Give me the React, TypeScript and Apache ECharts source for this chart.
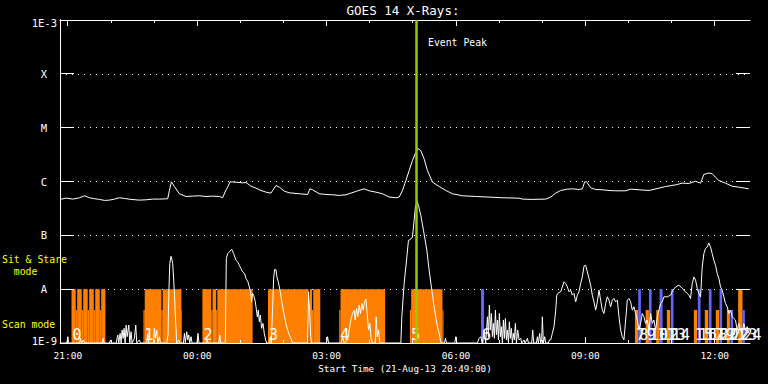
import React, { useEffect, useRef } from "react";
import * as echarts from "echarts";

// ---- axis definitions ----
const START_MINUTE_OF_DAY = 20 * 60 + 49; // 20:49
const SPAN_MINUTES = 960;
const FLOOR = 1e-9;
const CEIL = 1e-3;
const xMajorMinutes = [11, 191, 371, 551, 731, 911];
const xMajorLabels = ["21:00", "00:00", "03:00", "06:00", "09:00", "12:00"];
const xMinorMinutes = [71, 131, 251, 311, 431, 491, 611, 671, 791, 851];
const yTickValues = [1e-9, 1e-8, 1e-7, 1e-6, 1e-5, 1e-4, 1e-3];
const yTickLabels = ["1E-9", "A", "B", "C", "M", "X", "1E-3"];

const titleText = "GOES 14 X-Rays:";
const xAxisTitle = "Start Time (21-Aug-13 20:49:00)";
const eventPeakMinute = 495.5;
const eventPeakText = "Event Peak";

// ---- long channel (1-8 A) : minutes since start, flux W/m2 ----
const longTimes = [0, 8.6, 17.8, 27.1, 34.1, 41, 48, 55, 62, 68.8, 75.7, 82.7, 89.6, 98.9, 110.5, 119.8, 129, 138.3, 149.9, 152.2, 155, 159.1, 166.1, 175.4, 184.6, 193.9, 203.2, 212.4, 221.7, 226.3, 231, 233.3, 236.6, 244.9, 254.1, 258.8, 265.7, 272.7, 279.6, 286.6, 293.5, 300.5, 305.1, 312, 319, 332.9, 344.5, 347.7, 351.4, 360.7, 370, 379.2, 388.5, 397.8, 404.7, 411.7, 418.6, 423.2, 430.2, 439.5, 448.7, 458, 467.3, 471.9, 476.5, 481.2, 485.8, 490.4, 494.1, 497.3, 502, 506.6, 511.2, 518.2, 527.5, 536.8, 546, 559.9, 578.5, 597, 615.4, 638.7, 643.3, 657.2, 675.8, 682.7, 689.7, 696.6, 705.9, 712.8, 722.1, 726.7, 730, 732.7, 738.3, 745.3, 754.5, 763.8, 773, 787, 793.9, 805.5, 819.4, 833.2, 842.6, 856.5, 865.6, 874.9, 884.2, 891.2, 895.8, 902.7, 907.3, 916.6, 925.9, 935.1, 944.4, 958.3];
const longFlux = [4.65e-7, 4.91e-7, 4.71e-7, 4.99e-7, 5.43e-7, 4.99e-7, 4.78e-7, 4.65e-7, 4.45e-7, 4.51e-7, 4.71e-7, 4.99e-7, 4.84e-7, 4.65e-7, 4.51e-7, 4.57e-7, 4.71e-7, 4.71e-7, 4.78e-7, 6.81e-7, 9.86e-7, 8.07e-7, 5.92e-7, 5.27e-7, 5.35e-7, 5.43e-7, 5.27e-7, 5.35e-7, 5.27e-7, 4.99e-7, 7.02e-7, 7.85e-7, 9.86e-7, 9.72e-7, 9.44e-7, 9.57e-7, 8.18e-7, 7.52e-7, 6.81e-7, 6.34e-7, 6.08e-7, 8.43e-7, 7.85e-7, 6.62e-7, 6.17e-7, 5.92e-7, 5.74e-7, 7.31e-7, 7.02e-7, 5.92e-7, 5.74e-7, 5.66e-7, 5.51e-7, 5.66e-7, 6.08e-7, 6.53e-7, 7.02e-7, 7.31e-7, 6.71e-7, 6.34e-7, 5.92e-7, 5.13e-7, 4.99e-7, 5.13e-7, 6.81e-7, 1.045e-6, 1.6e-6, 2.45e-6, 3.25e-6, 4.14e-6, 3.75e-6, 2.63e-6, 1.6e-6, 9.72e-7, 8.07e-7, 6.81e-7, 5.92e-7, 5.43e-7, 5.27e-7, 5.13e-7, 4.99e-7, 4.9e-7, 4.71e-7, 4.65e-7, 4.71e-7, 5.13e-7, 6.08e-7, 6.81e-7, 7.21e-7, 7.31e-7, 7.11e-7, 7.31e-7, 9.86e-7, 9.86e-7, 7.64e-7, 7.11e-7, 7.02e-7, 6.81e-7, 6.71e-7, 6.71e-7, 7.21e-7, 7.02e-7, 6.81e-7, 7.52e-7, 8.07e-7, 8.66e-7, 9.31e-7, 9.19e-7, 1.01e-6, 9.31e-7, 1.35e-6, 1.44e-6, 1.39e-6, 1.045e-6, 9.31e-7, 8.18e-7, 7.85e-7, 7.31e-7];

// ---- short channel (0.5-4 A) : [minutes since start, flux] ----
const shortChannel: [number, number][] = [
  [0, 1e-9], [9.5, 1e-9], [10.9, 1.31e-9], [12.3, 1e-9],
  [27.1, 1e-9], [28.5, 1.22e-9], [29.9, 1e-9], [32.7, 1.14e-9], [34.1, 1e-9],
  [58.6, 1e-9], [60, 1.22e-9], [61.4, 1e-9], [68.8, 1e-9], [70.2, 1.14e-9], [71.6, 1e-9],
  [78.1, 1e-9], [80.4, 1.41e-9], [81.8, 1e-9], [83.6, 1.51e-9], [85, 1e-9], [86.4, 1.74e-9], [87.8, 1.22e-9], [89.2, 1.87e-9], [90.6, 1e-9], [92, 2.15e-9], [93.4, 1.31e-9], [95.7, 2.15e-9], [97.1, 1e-9], [98.9, 1.62e-9], [100.3, 1e-9], [103.5, 1.22e-9], [105.4, 2.15e-9], [106.8, 1e-9], [110.5, 1.14e-9], [111.9, 1e-9],
  [120.7, 1e-9], [122.1, 1.51e-9], [123.5, 1e-9], [130, 1e-9], [131.3, 1.87e-9], [132.7, 1.22e-9], [134.6, 1.74e-9], [136, 1e-9], [138.3, 1.31e-9], [139.7, 1e-9],
  [148.5, 1e-9], [150.3, 1.41e-9], [151.3, 7.21e-9], [152.7, 2.99e-8], [154.5, 4.08e-8], [155.9, 3.44e-8], [156.8, 2.99e-8], [158.2, 1.47e-8], [159.6, 6.25e-9], [161, 2.31e-9], [162.4, 1e-9],
  [165.2, 1.14e-9], [166.6, 1e-9], [171.7, 1e-9], [173.1, 1.51e-9], [174.4, 1e-9], [176.3, 1.62e-9], [177.7, 1.14e-9], [179.1, 1.41e-9], [180.5, 1e-9], [182.3, 1.31e-9], [183.7, 1e-9], [190.6, 1e-9], [192, 1.51e-9], [193.4, 1e-9],
  [203.2, 1e-9], [204.6, 1.14e-9], [206, 1e-9], [220.8, 1e-9], [222.2, 1.41e-9], [223.5, 1e-9],
  [230, 1e-9], [231.4, 3.7e-8], [233.3, 4.57e-8], [235.6, 4.91e-8], [238.8, 5.51e-8], [241.6, 4.57e-8], [244.9, 3.44e-8], [247.2, 3.21e-8], [249.5, 2.78e-8], [251.8, 2.41e-8], [254.1, 2.09e-8], [256.9, 1.95e-8], [258.7, 1.58e-8], [261.5, 1.37e-8], [263.4, 1.1e-8], [265.2, 8.93e-9], [266.6, 5.82e-9], [268, 8.32e-9], [269.4, 7.74e-9], [271.3, 6.25e-9], [272.7, 4.71e-9], [274.5, 3.07e-9], [275.9, 4.08e-9], [277.3, 2.48e-9], [278.7, 3.3e-9], [280.5, 1.87e-9], [282.4, 2.31e-9], [284.2, 1.51e-9], [286.1, 1.14e-9], [287.5, 1e-9],
  [291.2, 1e-9], [292.6, 1.31e-9], [294, 1e-9], [295.8, 4.38e-9], [297.2, 1.58e-8], [298.6, 2.31e-8], [300.4, 2.31e-8], [301.8, 1.69e-8], [303.7, 1.37e-8], [306, 9.57e-9], [308.3, 6.25e-9], [310.6, 4.08e-9], [312.9, 2.86e-9], [315.3, 2.01e-9], [317.6, 1.62e-9], [319, 1.41e-9], [321.3, 1.22e-9], [323.6, 1e-9],
  [344.5, 1e-9], [345.9, 8.93e-9], [347.3, 4.08e-9], [348.7, 1.31e-9], [350, 1e-9], [370.9, 1e-9], [372.3, 1.31e-9], [373.7, 1e-9],
  [390.8, 1e-9], [393.1, 1.31e-9], [395.4, 1e-9], [400.1, 1.14e-9], [402.4, 1.74e-9], [404.7, 2.67e-9], [407, 3.54e-9], [409.3, 4.08e-9], [410.7, 2.67e-9], [412.6, 4.38e-9], [414.4, 3.07e-9], [416.3, 5.06e-9], [418.1, 3.54e-9], [420, 5.43e-9], [421.9, 4.08e-9], [423.7, 5.82e-9], [425.6, 6.53e-9], [427.4, 3.54e-9], [429.3, 1.74e-9], [431.1, 2.31e-9], [433, 1.14e-9], [434.8, 1e-9], [438.5, 1e-9], [439.9, 3.07e-9], [441.3, 1.31e-9], [443.2, 1.74e-9], [445, 1e-9],
  [474.2, 1e-9], [475.6, 3.07e-9], [478.8, 1.27e-8], [482.6, 3.97e-8], [484.8, 8.07e-8], [487.2, 8.32e-8], [490.4, 9.29e-8], [492.7, 1.9e-7], [494.5, 3.35e-7], [496.9, 4.27e-7], [498.7, 3.6e-7], [502, 2.35e-7], [505.7, 1.24e-7], [510.4, 5.27e-8], [513.6, 2.25e-8], [517.3, 9.57e-9], [520.5, 4.7e-9], [524.2, 2.32e-9], [527.5, 1.51e-9], [530.2, 1e-9],
  [534.9, 1e-9], [536.3, 1.22e-9], [537.7, 1e-9], [549.3, 1e-9], [550.7, 1.31e-9], [552, 1e-9],
  [580.8, 1e-9], [583.1, 1.22e-9], [585.4, 1.31e-9], [587.7, 1e-9], [590, 1.74e-9], [592.3, 1e-9], [594.7, 3.07e-9], [596, 1.31e-9], [597.4, 5.06e-9], [598.8, 1.74e-9], [600.2, 3.54e-9], [601.6, 1.31e-9], [603, 2.31e-9], [604.4, 1.22e-9], [605.8, 4.08e-9], [607.2, 1.41e-9], [608.6, 2.67e-9], [610, 1.14e-9], [611.3, 3.54e-9], [612.7, 1.31e-9], [614.1, 2.01e-9], [615.5, 1e-9], [616.9, 2.67e-9], [618.3, 1.22e-9], [619.7, 2.86e-9], [621.1, 1.14e-9], [622.5, 1.74e-9], [623.9, 1e-9], [625.2, 2.48e-9], [626.6, 1.22e-9], [628, 1.87e-9], [629.4, 1e-9], [630.8, 1.51e-9], [632.2, 1.14e-9], [633.6, 2.31e-9], [635, 1e-9], [636.8, 1.74e-9], [638.7, 1.14e-9],
  [641, 1.22e-9], [642.4, 1e-9], [645.6, 1.14e-9], [647, 1e-9], [650.3, 1.22e-9], [651.7, 1e-9], [656.3, 1e-9], [657.7, 1.74e-9], [659.1, 1e-9], [662.8, 1e-9], [664.2, 1.31e-9], [665.6, 1e-9], [667.4, 1.51e-9], [668.8, 1e-9], [670.2, 1.14e-9], [671.1, 3.07e-9], [672.5, 1e-9], [674.4, 1.31e-9], [675.8, 1e-9], [679.5, 1e-9], [680.9, 1.14e-9], [682.7, 1.14e-9],
  [685, 1.51e-9], [687.3, 2.01e-9], [689.7, 4.08e-9], [691.1, 7.74e-9], [693.4, 8.55e-9], [696.6, 8.93e-9], [698.9, 1.1e-8], [701.2, 1.37e-8], [703.6, 1.27e-8], [705.9, 1.1e-8], [708.2, 8.93e-9], [710.5, 9.57e-9], [712.8, 7.74e-9], [715.1, 8.32e-9], [717.5, 5.82e-9], [719.8, 7.74e-9], [722.1, 8.93e-9], [724.4, 1.27e-8], [726.7, 1.69e-8], [729, 2.67e-8], [731.4, 2.78e-8], [733.7, 2.09e-8], [736, 1.58e-8], [738.3, 1.19e-8], [740.6, 7.74e-9], [742.9, 5.82e-9], [745.3, 4.08e-9], [747.6, 5.82e-9], [749.9, 9.57e-9], [752.2, 6.25e-9], [754.5, 4.08e-9], [756.8, 3.54e-9], [759.2, 5.43e-9], [761.5, 7.21e-9], [763.8, 6.25e-9], [766.1, 4.71e-9], [768.4, 6.25e-9], [770.7, 6.71e-9], [773.1, 5.82e-9], [775.4, 6.25e-9], [777.7, 3.07e-9], [780, 1.74e-9], [782.3, 1.31e-9], [784.6, 1.14e-9], [787, 2.67e-9], [789.3, 6.25e-9], [791.6, 6.71e-9], [793.9, 5.82e-9], [796.2, 4.08e-9], [798.5, 4.71e-9], [800.9, 3.54e-9], [803.2, 2.67e-9], [805.5, 1.74e-9], [807.8, 2.31e-9], [810.1, 3.54e-9], [812.4, 3.07e-9], [814.8, 2.31e-9], [817.1, 2.67e-9], [819.4, 1.74e-9], [821.7, 3.54e-9], [824, 2.31e-9], [826.3, 2.67e-9], [828.7, 1.74e-9], [831, 3.07e-9], [833.3, 4.08e-9], [835.6, 5.43e-9], [837.9, 5.82e-9], [840.2, 7.21e-9], [844.9, 7.21e-9], [849.5, 7.74e-9], [852.7, 9.57e-9], [856.5, 1.1e-8], [861.1, 1.19e-8], [865.7, 1.03e-8], [870.4, 8.93e-9], [875, 7.74e-9], [877.3, 6.71e-9], [879.6, 1.27e-8], [882, 1.69e-8], [884.3, 1.47e-8], [886.6, 1.03e-8], [888.9, 8.32e-9], [891.2, 7.21e-9], [893.5, 2.59e-8], [895.8, 4.57e-8], [898.1, 5.66e-8], [900.5, 6.08e-8], [902.8, 7.21e-8], [905.1, 6.08e-8], [907.4, 4.57e-8], [909.7, 3.44e-8], [912, 2.78e-8], [914.4, 1.95e-8], [916.7, 1.58e-8], [919, 1.1e-8], [921.3, 9.57e-9], [923.6, 7.21e-9], [925.9, 5.43e-9], [928.3, 4.71e-9], [930.6, 3.54e-9], [932.9, 4.08e-9], [935.2, 3.07e-9], [937.5, 2.86e-9], [939.8, 2.67e-9], [942.2, 1.74e-9], [944.5, 2.31e-9], [946.8, 1.74e-9], [949.1, 1.51e-9], [951.4, 2.31e-9], [953.7, 1.74e-9], [956.1, 2.01e-9], [958.4, 1.51e-9],
];

// ---- observing mode segments: [start min, end min, mode (S = sit & stare, C = scan), kind (o = orange, b = blue)] ----
const SIT_LEVEL = 1e-8;
const SCAN_LEVEL = 4.1e-9;
const modeSegments: [number, number, string, string][] = [
  [16, 21.9, "S", "o"], [21.9, 23.9, "C", "o"], [23.9, 30.3, "S", "o"], [30.3, 32.3, "C", "o"], [32.3, 38.6, "S", "o"], [38.6, 40.6, "C", "o"], [40.6, 47, "S", "o"], [47, 49, "C", "o"], [49, 55.3, "S", "o"], [55.3, 57.3, "C", "o"], [57.3, 63.2, "S", "o"],
  [116.1, 117.9, "C", "o"], [117.9, 141.1, "S", "o"], [141.1, 142.9, "C", "o"], [142.9, 168.9, "S", "o"], [168.9, 169.8, "C", "o"],
  [198.1, 210.4, "S", "o"], [210.4, 212.2, "C", "o"], [212.2, 217.2, "S", "o"], [217.2, 218.9, "C", "o"], [218.9, 268, "S", "o"],
  [289.4, 345.8, "S", "o"], [345.8, 347.6, "C", "o"], [347.6, 350.6, "S", "o"], [350.6, 352.3, "C", "o"], [352.3, 362.1, "S", "o"],
  [388.5, 390.3, "C", "o"], [390.3, 452.4, "S", "o"],
  [486.8, 488.6, "C", "o"], [488.6, 532.1, "S", "o"], [532.1, 533.5, "C", "o"],
  [585.8, 590, "S", "b"],
  [799.9, 804.5, "C", "o"], [804.5, 808.2, "S", "b"], [814.8, 819.4, "C", "o"], [819.4, 823.1, "S", "b"],
  [829.5, 834.2, "C", "o"], [834.2, 838.4, "S", "b"], [844.3, 848.9, "C", "o"], [849.9, 853.6, "S", "b"],
  [881.9, 886.5, "C", "o"], [887.4, 891.2, "S", "b"], [897.1, 901.8, "C", "o"], [902.7, 906.5, "S", "b"],
  [912.4, 917.1, "C", "o"], [917.6, 921.2, "S", "b"], [927.8, 932, "C", "o"], [932.9, 936.5, "C", "b"],
  [943.5, 949.6, "S", "o"], [949.6, 952.8, "C", "b"],
];
const obsStartMinutes = [16, 116.1, 198.1, 289.4, 388.5, 486.8, 585.8, 799.9, 804.5, 814.8, 819.4, 829.5, 834.2, 844.3, 849.9, 881.9, 887.4, 897.1, 902.7, 912.4, 917.6, 927.8, 932.9, 943.5, 949.6];
const obsLabels = ["0", "1", "2", "3", "4", "5", "6", "7", "8", "9", "10", "11", "12", "13", "14", "15", "16", "17", "18", "19", "20", "21", "22", "23", "24"];

const MONO = '"DejaVu Sans Mono", monospace';
const ORANGE = "#ff8000";
const BLUE = "#6464ff";
const GREEN = "#98c800";
const YELLOW = "#ffff00";

function fmtMinute(v: number) {
  const i = xMajorMinutes.indexOf(v);
  if (i >= 0) return xMajorLabels[i];
  const t = (START_MINUTE_OF_DAY + v) % 1440;
  const h = Math.floor(t / 60), m = Math.round(t % 60);
  return `${String(h).padStart(2, "0")}:${String(m).padStart(2, "0")}`;
}

const crisp = (v: number) => Math.round(v - 0.5) + 0.5;

export default function App() {
  const ref = useRef<HTMLDivElement>(null);
  useEffect(() => {
    if (!ref.current) return;
    const chart = echarts.init(ref.current, undefined, { renderer: "svg" });
    const tickStyle = { stroke: "#fff", lineWidth: 1 };
    const yLabelBase = { color: "#fff", fontFamily: MONO, fontSize: 10.5 };
    const option: any = {
      animation: false,
      backgroundColor: "#000",
      grid: { left: 60, top: 20, width: 690, height: 323, containLabel: false },
      xAxis: [
        {
          type: "value",
          min: 0,
          max: SPAN_MINUTES,
          position: "bottom",
          splitLine: { show: false },
          axisLine: { show: true, lineStyle: { color: "#fff", width: 1 } },
          axisTick: { show: false },
          axisLabel: {
            show: true,
            customValues: xMajorMinutes,
            formatter: (v: number) => fmtMinute(v),
            color: "#fff",
            fontFamily: MONO,
            fontSize: 9.5,
            margin: 7,
          },
        },
        {
          type: "value",
          min: 0,
          max: SPAN_MINUTES,
          position: "top",
          splitLine: { show: false },
          axisLine: { show: true, lineStyle: { color: "#fff", width: 1 } },
          axisTick: { show: false },
          axisLabel: { show: false },
        },
      ],
      yAxis: [
        {
          type: "log",
          logBase: 10,
          min: FLOOR,
          max: CEIL,
          position: "left",
          axisLine: { show: true, lineStyle: { color: "#fff", width: 1 } },
          axisTick: { show: false },
          minorTick: { show: false },
          splitLine: { show: true, lineStyle: { color: "#fff", width: 1, type: [1, 5] } },
          axisLabel: {
            show: true,
            margin: 3,
            formatter: (v: number) => {
              const i = Math.round(Math.log10(v)) + 9;
              const s = yTickLabels[i] ?? "";
              if (i === 0) return `{lo|${s}}`;
              if (i === yTickLabels.length - 1) return `{hi|${s}}`;
              return `{l|${s}}`;
            },
            rich: {
              l: { ...yLabelBase, padding: [0, 10, 0, 0] },
              hi: { ...yLabelBase, padding: [6, 0, 0, 0] },
              lo: { ...yLabelBase, padding: [0, 0, 5, 0] },
            },
          },
        },
        {
          type: "log",
          logBase: 10,
          min: FLOOR,
          max: CEIL,
          position: "right",
          axisLine: { show: true, lineStyle: { color: "#fff", width: 1 } },
          axisTick: { show: false },
          minorTick: { show: false },
          splitLine: { show: false },
          axisLabel: { show: false },
        },
      ],
      series: [
        {
          type: "custom",
          name: "modes",
          xAxisIndex: 0,
          yAxisIndex: 0,
          z: 1,
          clip: true,
          encode: { x: [0, 1], y: 2 },
          data: modeSegments.map(([s, e, m, k]) => [s, e, m === "S" ? SIT_LEVEL : SCAN_LEVEL, k === "o" ? 0 : 1]),
          renderItem: (params: any, api: any) => {
            const s = api.value(0), e = api.value(1), top = api.value(2), k = api.value(3);
            const p0 = api.coord([s, top]);
            const p1 = api.coord([e, FLOOR]);
            return {
              type: "rect",
              shape: { x: p0[0], y: p0[1], width: p1[0] - p0[0], height: p1[1] - p0[1] },
              style: { fill: k === 0 ? ORANGE : BLUE },
            };
          },
        },
        {
          type: "line",
          name: "long",
          xAxisIndex: 0,
          yAxisIndex: 0,
          z: 3,
          showSymbol: false,
          symbol: "none",
          lineStyle: { color: "#fff", width: 1 },
          data: longTimes.map((t, i) => [t, longFlux[i]]),
        },
        {
          type: "line",
          name: "short",
          xAxisIndex: 0,
          yAxisIndex: 0,
          z: 3,
          showSymbol: false,
          symbol: "none",
          lineStyle: { color: "#fff", width: 1 },
          data: shortChannel,
        },
        {
          // inward y ticks on both sides of the frame
          type: "custom",
          name: "yTicks",
          xAxisIndex: 0,
          yAxisIndex: 0,
          z: 5,
          clip: false,
          encode: { x: 0, y: 1 },
          data: yTickValues.map((v) => [0, v]),
          renderItem: (params: any, api: any) => {
            const v = api.value(1);
            const pl = api.coord([0, v]);
            const pr = api.coord([SPAN_MINUTES, v]);
            const y = crisp(pl[1]);
            return {
              type: "group",
              children: [
                { type: "line", shape: { x1: pl[0], y1: y, x2: pl[0] + 14, y2: y }, style: tickStyle },
                { type: "line", shape: { x1: pr[0] - 14, y1: y, x2: pr[0], y2: y }, style: tickStyle },
              ],
            };
          },
        },
        {
          // inward time ticks on top and bottom
          type: "custom",
          name: "xTicks",
          xAxisIndex: 0,
          yAxisIndex: 0,
          z: 5,
          clip: false,
          encode: { x: 0, y: 1 },
          data: [...xMajorMinutes.map((t) => [t, FLOOR, 1]), ...xMinorMinutes.map((t) => [t, FLOOR, 0])],
          renderItem: (params: any, api: any) => {
            const t = api.value(0);
            const len = api.value(2) === 1 ? 6 : 3;
            const pb = api.coord([t, FLOOR]);
            const pt = api.coord([t, CEIL]);
            const x = crisp(pb[0]);
            return {
              type: "group",
              children: [
                { type: "line", shape: { x1: x, y1: pb[1], x2: x, y2: pb[1] - len }, style: tickStyle },
                { type: "line", shape: { x1: x, y1: pt[1], x2: x, y2: pt[1] + len }, style: tickStyle },
              ],
            };
          },
        },
        {
          type: "custom",
          name: "obsLabels",
          xAxisIndex: 0,
          yAxisIndex: 0,
          z: 4,
          clip: false,
          encode: { x: 0, y: 1 },
          data: obsStartMinutes.map((t, i) => [t, FLOOR, i]),
          renderItem: (params: any, api: any) => {
            const p = api.coord([api.value(0), api.value(1)]);
            return {
              type: "text",
              x: p[0] + 1,
              y: p[1] - 1,
              style: {
                text: obsLabels[api.value(2)],
                fill: "#fff",
                fontFamily: MONO,
                fontSize: 15,
                align: "left",
                verticalAlign: "bottom",
              },
            };
          },
        },
        {
          type: "line",
          name: "peak",
          xAxisIndex: 0,
          yAxisIndex: 0,
          z: 6,
          showSymbol: false,
          symbol: "none",
          lineStyle: { opacity: 0 },
          data: [[eventPeakMinute, FLOOR]],
          markLine: {
            silent: true,
            symbol: ["none", "none"],
            label: { show: false },
            lineStyle: { color: GREEN, width: 2.5, type: "solid" },
            data: [{ xAxis: eventPeakMinute }],
          },
        },
      ],
      graphic: [
        {
          type: "text",
          x: 403,
          y: 10,
          style: { text: titleText, fill: "#fff", fontFamily: MONO, fontSize: 12.5, align: "center", verticalAlign: "middle" },
        },
        {
          type: "text",
          x: 428,
          y: 42.5,
          z: 10,
          style: { text: eventPeakText, fill: "#fff", fontFamily: MONO, fontSize: 9.8, align: "left", verticalAlign: "middle" },
        },
        {
          type: "text",
          x: 405,
          y: 368,
          style: { text: xAxisTitle, fill: "#fff", fontFamily: MONO, fontSize: 9.3, align: "center", verticalAlign: "middle" },
        },
        {
          type: "text",
          x: 2,
          y: 253,
          z: 10,
          style: { text: "Sit & Stare\n  mode", fill: YELLOW, fontFamily: MONO, fontSize: 9.8, lineHeight: 12, align: "left", verticalAlign: "top" },
        },
        {
          type: "text",
          x: 2,
          y: 318,
          z: 10,
          style: { text: "Scan mode", fill: YELLOW, fontFamily: MONO, fontSize: 9.8, lineHeight: 12, align: "left", verticalAlign: "top" },
        },
      ],
    };
    chart.setOption(option);
    return () => chart.dispose();
  }, []);
  return (
    <div
      ref={ref}
      style={{ position: "fixed", left: 0, top: 0, width: 768, height: 384, background: "#000" }}
    />
  );
}
